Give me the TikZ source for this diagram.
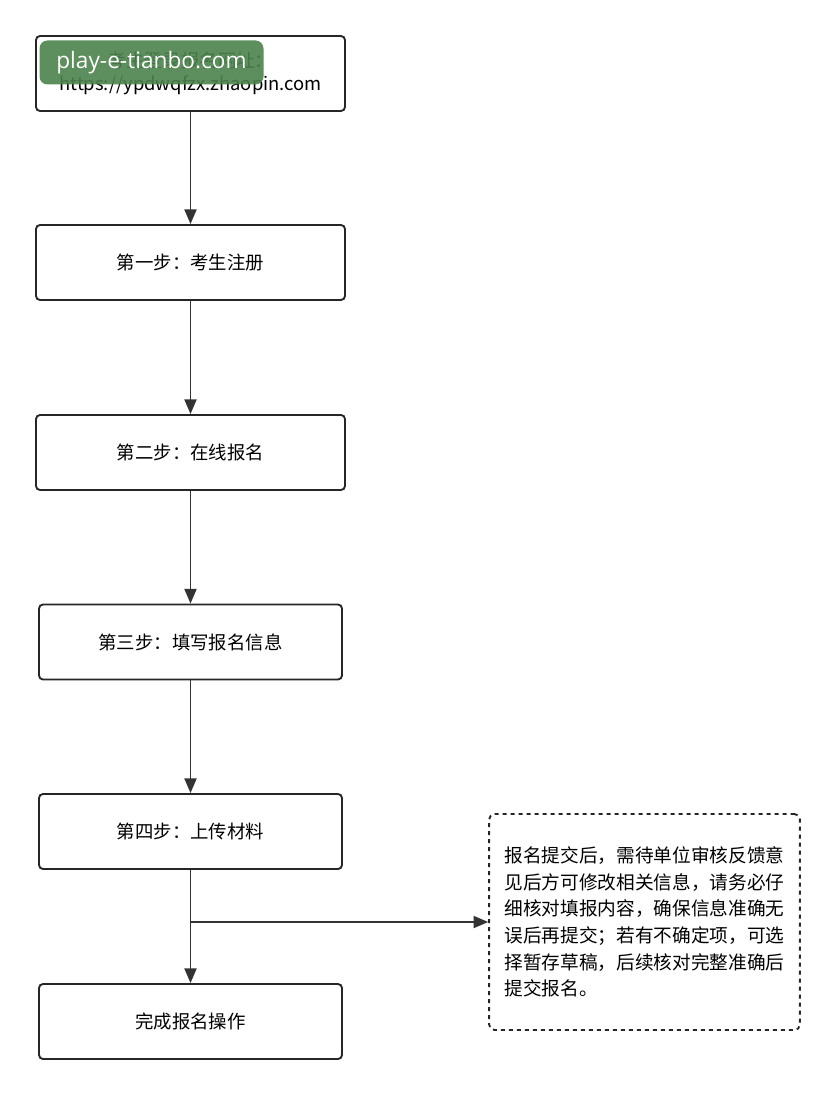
\documentclass[tikz,border=0pt]{standalone}
\usepackage{fontspec}
\setmainfont{Noto Sans CJK SC}
\newfontfamily\wmfont{Open Sans}
\usetikzlibrary{arrows.meta}
\begin{document}
\begin{tikzpicture}[x=0.75pt,y=-0.75pt,
  stepbox/.style={draw=black!85,line width=1.4pt,rounded corners=3pt,minimum height=56.25pt,font=\fontsize{13.8}{17}\selectfont,align=center},
  arr/.style={draw=black!80,line width=1.4pt,-{Triangle[length=11pt,width=9pt]}}]
\useasboundingbox[fill=white] (0,0) rectangle (835,1095);
\node[stepbox,minimum width=231.75pt] (s0) at (190.5,73.5) {考生登录报名网址：\\https://ypdwqfzx.zhaopin.com};
\node[stepbox,minimum width=231.75pt] (s1) at (190.5,262.5) {第一步：考生注册};
\node[stepbox,minimum width=231.75pt] (s2) at (190.5,452.5) {第二步：在线报名};
\node[stepbox,minimum width=227.25pt] (s3) at (190.5,642) {第三步：填写报名信息};
\node[stepbox,minimum width=227.25pt] (s4) at (190.5,831.5) {第四步：上传材料};
\node[stepbox,minimum width=227.25pt] (s5) at (190.5,1021.5) {完成报名操作};
\node[draw=black!85,dashed,line width=1.4pt,rounded corners=4pt,minimum width=233pt,minimum height=162pt,
  font=\fontsize{14}{20}\selectfont,align=left] (note) at (644.5,922)
  {报名提交后，需待单位审核反馈意\\见后方可修改相关信息，请务必仔\\细核对填报内容，确保信息准确无\\误后再提交；若有不确定项，可选\\择暂存草稿，后续核对完整准确后\\提交报名。};
\draw[arr] (s0) -- (s1);
\draw[arr] (s1) -- (s2);
\draw[arr] (s2) -- (s3);
\draw[arr] (s3) -- (s4);
\draw[arr] (s4) -- (s5);
\coordinate (br) at (190.5,922);
\draw[arr] (br) -- (note.west);
\node[fill=green!30!black!70!white,fill opacity=0.9,text opacity=1,text=white,rounded corners=6pt,
  minimum width=168pt,minimum height=33pt,font=\wmfont\fontsize{17}{20}\selectfont] (wm) at (151.5,62.5) {play-e-tianbo.com};
\end{tikzpicture}
\end{document}
